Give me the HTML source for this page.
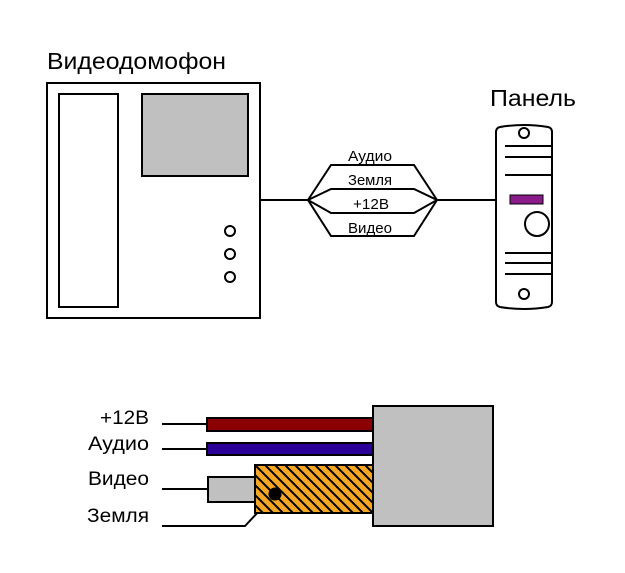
<!DOCTYPE html>
<html><head><meta charset="utf-8"><style>
html,body{margin:0;padding:0;background:#fff}
svg{display:block}
text{font-family:"Liberation Sans",sans-serif;fill:#000}
</style></head><body>
<svg width="625" height="573" viewBox="0 0 625 573" xmlns="http://www.w3.org/2000/svg">
<defs>
<pattern id="h" width="10" height="10" patternUnits="userSpaceOnUse">
<rect width="10" height="10" fill="#f5a623"/>
<path d="M-5,-5 L15,15 M-5,5 L5,15 M5,-5 L15,5" stroke="#000" stroke-width="2"/>
</pattern>
</defs>
<text x="47" y="69" font-size="23" textLength="179" lengthAdjust="spacingAndGlyphs">Видеодомофон</text>
<rect x="47" y="83" width="213" height="235" fill="#fff" stroke="#000" stroke-width="2"/>
<rect x="59" y="94" width="59" height="213" fill="#fff" stroke="#000" stroke-width="2"/>
<rect x="142" y="94" width="106" height="82" fill="#c0c0c0" stroke="#000" stroke-width="2"/>
<circle cx="230" cy="231" r="5" fill="#fff" stroke="#000" stroke-width="2"/>
<circle cx="230" cy="254" r="5" fill="#fff" stroke="#000" stroke-width="2"/>
<circle cx="230" cy="277" r="5" fill="#fff" stroke="#000" stroke-width="2"/>
<path d="M260,200 H308 M437,200 H495" stroke="#000" stroke-width="2"/>
<path d="M308,200 L331,165 H414 L437,200 L414,236 H331 Z" fill="none" stroke="#000" stroke-width="2"/>
<path d="M308,200 L331,189 H414 L437,200 L414,213 H331 Z" fill="none" stroke="#000" stroke-width="2"/>
<text x="348" y="161" font-size="15" textLength="44" lengthAdjust="spacingAndGlyphs">Аудио</text>
<text x="348" y="185" font-size="15" textLength="44" lengthAdjust="spacingAndGlyphs">Земля</text>
<text x="353" y="209" font-size="15" textLength="36" lengthAdjust="spacingAndGlyphs">+12В</text>
<text x="348" y="233" font-size="15" textLength="44" lengthAdjust="spacingAndGlyphs">Видео</text>
<text x="490" y="106" font-size="23" textLength="86" lengthAdjust="spacingAndGlyphs">Панель</text>
<path d="M496,132 Q496,128 500,127 Q524,123 548,127 Q552,128 552,132 V302 Q552,306 548,307 Q524,311 500,307 Q496,306 496,302 Z" fill="#fff" stroke="#000" stroke-width="2"/>
<circle cx="524" cy="133" r="5" fill="#fff" stroke="#000" stroke-width="2"/>
<circle cx="524" cy="294" r="5" fill="#fff" stroke="#000" stroke-width="2"/>
<path d="M505,146 H552 M505,157 H552 M505,175 H552 M505,253 H552 M505,263 H552 M505,274 H552" stroke="#000" stroke-width="2"/>
<rect x="510" y="195" width="33" height="9" fill="#8b1a8b" stroke="#000" stroke-width="1"/>
<circle cx="537" cy="224" r="12" fill="#fff" stroke="#000" stroke-width="2"/>
<text x="100" y="424" font-size="19" textLength="49" lengthAdjust="spacingAndGlyphs">+12В</text>
<text x="88" y="450" font-size="19" textLength="61" lengthAdjust="spacingAndGlyphs">Аудио</text>
<text x="88" y="485" font-size="19" textLength="61" lengthAdjust="spacingAndGlyphs">Видео</text>
<text x="87" y="522" font-size="19" textLength="62" lengthAdjust="spacingAndGlyphs">Земля</text>
<path d="M162,424 H207 M162,449 H207 M162,489 H208 M162,526 H245 L275,494" stroke="#000" stroke-width="2" fill="none"/>
<rect x="207" y="418" width="166" height="13" fill="#8b0000" stroke="#000" stroke-width="2"/>
<rect x="207" y="443" width="166" height="12" fill="#2a0099" stroke="#000" stroke-width="2"/>
<rect x="208" y="477" width="47" height="25" fill="#c0c0c0" stroke="#000" stroke-width="2"/>
<rect x="255" y="465" width="118" height="48" fill="url(#h)" stroke="#000" stroke-width="2"/>
<circle cx="275" cy="494" r="6.5" fill="#000"/>
<rect x="373" y="406" width="120" height="120" fill="#c0c0c0" stroke="#000" stroke-width="2"/>
</svg>
</body></html>
